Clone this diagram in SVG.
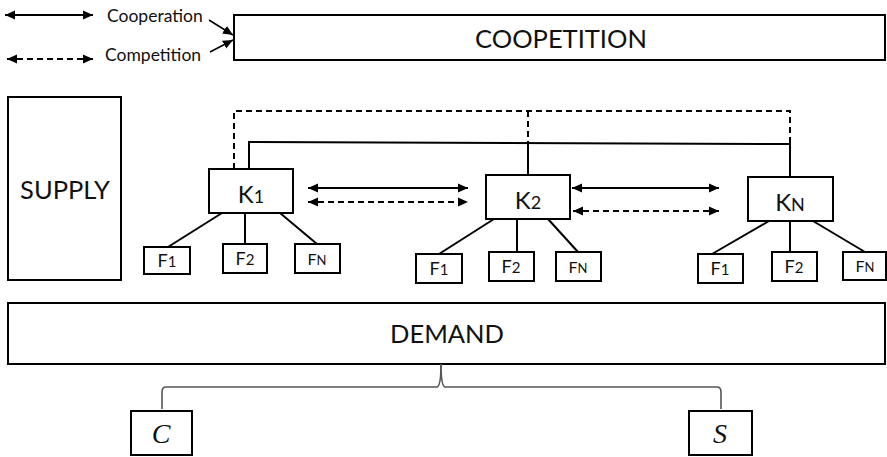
<svg xmlns="http://www.w3.org/2000/svg" width="887" height="457" viewBox="0 0 887 457">
<style>
.box{fill:#fff;stroke:#000;stroke-width:2}
.ln{fill:none;stroke:#000;stroke-width:2}
.dash{fill:none;stroke:#000;stroke-width:2;stroke-dasharray:6 4}
.t{font-family:Lato,"Open Sans","Liberation Sans",sans-serif;fill:#111;text-anchor:middle}
.big{font-size:25.5px}
.k{font-size:24px}
.f{font-size:18px}
.sm{font-size:15px}
.fn{font-size:16px}
.fns{font-size:13px}
.leg{font-family:Lato,"Open Sans","Liberation Sans",sans-serif;font-size:17.5px;fill:#111}
.it{font-family:"Liberation Serif",serif;font-style:italic;font-size:28px;text-anchor:middle;fill:#111}
.brace{fill:none;stroke:#555;stroke-width:1.6}
</style>
<defs>
<marker id="ah" viewBox="0 0 10 10" refX="10" refY="5" markerWidth="10" markerHeight="10" markerUnits="userSpaceOnUse" orient="auto-start-reverse">
<path d="M0,0.5 L10,5 L0,9.5 z" fill="#000"/>
</marker>
</defs>

<g id="legend">
<line class="ln" x1="5" y1="15" x2="93" y2="15" marker-start="url(#ah)" marker-end="url(#ah)"/>
<line class="dash" x1="7" y1="59" x2="93" y2="59" marker-start="url(#ah)" marker-end="url(#ah)"/>
<text class="leg" x="107" y="22">Cooperation</text>
<text class="leg" x="105" y="61">Competition</text>
<line x1="209" y1="20" x2="233" y2="35" stroke="#000" stroke-width="1.5" marker-end="url(#ah)"/>
<line x1="210" y1="52" x2="233" y2="40" stroke="#000" stroke-width="1.5" marker-end="url(#ah)"/>
</g>

<g id="coopetition">
<rect class="box" x="234" y="15" width="651" height="45"/>
<text class="t big" x="561" y="48">COOPETITION</text>
</g>

<g id="supply">
<rect class="box" x="8" y="97" width="113" height="183"/>
<text class="t big" x="65" y="199">SUPPLY</text>
</g>

<g id="demand">
<rect class="box" x="8" y="303" width="877" height="61"/>
<text class="t big" x="447" y="343">DEMAND</text>
</g>

<g id="connectors">
<path class="dash" d="M234,169 V111 H790 V144"/>
<path class="dash" d="M528,111 V144"/>
<path class="ln" d="M249,169 V142 L790,144 V177"/>
<path class="ln" d="M528,143 V175"/>
<line class="ln" x1="308" y1="188" x2="468" y2="188" marker-start="url(#ah)" marker-end="url(#ah)"/>
<line class="dash" x1="308" y1="202" x2="468" y2="202" marker-start="url(#ah)" marker-end="url(#ah)"/>
<line class="ln" x1="572" y1="188" x2="719" y2="188" marker-start="url(#ah)" marker-end="url(#ah)"/>
<line class="dash" x1="573" y1="211" x2="719" y2="211" marker-start="url(#ah)" marker-end="url(#ah)"/>
<line class="ln" x1="222" y1="213" x2="168" y2="247"/>
<line class="ln" x1="245" y1="213" x2="245" y2="244"/>
<line class="ln" x1="280" y1="213" x2="317" y2="244"/>
<line class="ln" x1="494" y1="219" x2="439" y2="254"/>
<line class="ln" x1="517" y1="219" x2="517" y2="252"/>
<line class="ln" x1="548" y1="219" x2="578" y2="252"/>
<line class="ln" x1="769" y1="221" x2="712" y2="254"/>
<line class="ln" x1="790" y1="221" x2="790" y2="252"/>
<line class="ln" x1="813" y1="221" x2="865" y2="252"/>
<path class="brace" d="M441,364 Q441,386 437,387 H166 Q162,387 162,392 V409"/>
<path class="brace" d="M441,364 Q441,386 445,387 H717 Q721,387 721,392 V409"/>
</g>

<g id="k1">
<rect class="box" x="209" y="169" width="84" height="44"/>
<text class="t k" x="251" y="203">K<tspan class="f">1</tspan></text>
</g>
<g id="k2">
<rect class="box" x="486" y="175" width="84" height="44"/>
<text class="t k" x="528" y="209">K<tspan class="f">2</tspan></text>
</g>
<g id="kn">
<rect class="box" x="748" y="177" width="85" height="44"/>
<text class="t k" x="790" y="211">K<tspan class="f">N</tspan></text>
</g>

<g id="k1-f1"><rect class="box" x="144" y="247" width="46" height="27"/><text class="t f" x="167" y="267">F<tspan class="sm">1</tspan></text></g>
<g id="k1-f2"><rect class="box" x="223" y="244" width="44" height="29"/><text class="t f" x="245" y="265">F<tspan class="sm">2</tspan></text></g>
<g id="k1-fn"><rect class="box" x="295" y="244" width="45" height="29"/><text class="t fn" x="317" y="265">F<tspan class="fns">N</tspan></text></g>

<g id="k2-f1"><rect class="box" x="416" y="254" width="46" height="29"/><text class="t f" x="439" y="275">F<tspan class="sm">1</tspan></text></g>
<g id="k2-f2"><rect class="box" x="489" y="252" width="45" height="29"/><text class="t f" x="511" y="273">F<tspan class="sm">2</tspan></text></g>
<g id="k2-fn"><rect class="box" x="556" y="252" width="45" height="29"/><text class="t fn" x="578" y="273">F<tspan class="fns">N</tspan></text></g>

<g id="kn-f1"><rect class="box" x="698" y="254" width="45" height="29"/><text class="t f" x="720" y="275">F<tspan class="sm">1</tspan></text></g>
<g id="kn-f2"><rect class="box" x="772" y="252" width="45" height="29"/><text class="t f" x="794" y="273">F<tspan class="sm">2</tspan></text></g>
<g id="kn-fn"><rect class="box" x="843" y="252" width="43" height="28"/><text class="t fn" x="865" y="272">F<tspan class="fns">N</tspan></text></g>

<g id="c">
<rect class="box" x="131" y="411" width="61" height="44"/>
<text class="it" x="161" y="443">C</text>
</g>
<g id="s">
<rect class="box" x="689" y="411" width="63" height="44"/>
<text class="it" x="720" y="443">S</text>
</g>
</svg>
